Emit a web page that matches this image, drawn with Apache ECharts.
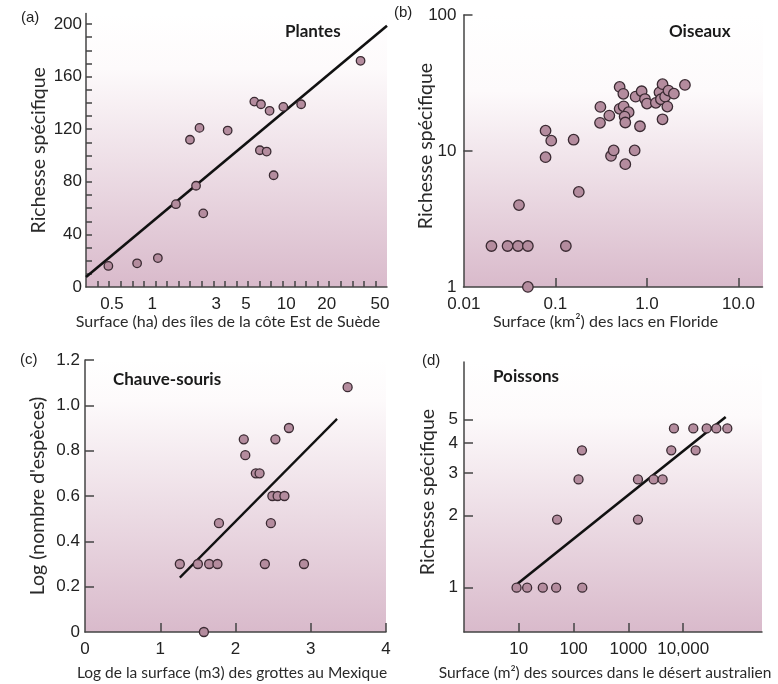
<!DOCTYPE html>
<html><head><meta charset="utf-8">
<script src="https://cdn.jsdelivr.net/npm/echarts@6/dist/echarts.min.js"></script>
<style>
html,body{margin:0;padding:0;background:#fff}
#wrap{position:relative;width:778px;height:684px}
#bgs{position:absolute;left:0;top:0;width:778px;height:684px;z-index:0}
#bgs div{position:absolute}
#c{position:absolute;left:0;top:0;width:778px;height:684px;z-index:1}
</style>
</head><body><div id="wrap"><div id="bgs"></div><div id="c"></div></div>
<script>
// ---------- DATA ----------
// (a) Plantes
const plantesSurface = [0.47, 0.77, 1.10, 1.50, 1.91, 2.12, 2.25, 2.40, 3.65, 5.77, 6.47, 6.35, 7.13, 7.50, 8.04, 9.50, 12.9, 35.8];
const plantesRichesse = [16, 18, 22, 63, 112, 77, 121, 56, 119, 141, 139, 104, 103, 134, 85, 137, 139, 172];
const plantesFitX = [0.32, 56.4];
const plantesFitY = [7.6, 198.7];
const plantesXTicks = [0.5, 1, 3, 5, 10, 20, 50];
const plantesYTicks = [0, 40, 80, 120, 160, 200];
const plantesYMinor = [10, 20, 30, 40, 50, 60, 70, 80, 90, 100, 110, 120, 130, 140, 150, 160, 170, 180, 190, 200];

// (b) Oiseaux
const oiseauxSurface = [0.020, 0.030, 0.039, 0.050, 0.040, 0.050, 0.130, 0.078, 0.090, 0.078, 0.158, 0.180, 0.310, 0.307, 0.388, 0.405, 0.433, 0.503, 0.552, 0.503, 0.556, 0.631, 0.570, 0.580, 0.580, 0.734, 0.752, 0.839, 0.875, 0.951, 1.00, 1.25, 1.37, 1.42, 1.48, 1.48, 1.58, 1.67, 1.72, 1.97, 2.60];
const oiseauxRichesse = [2, 2, 2, 2, 4, 1, 2, 14.1, 11.9, 9.0, 12.1, 5, 21.1, 16.1, 18.2, 9.2, 10.1, 29.6, 26.3, 20.4, 21.3, 19.3, 17.9, 16.2, 8, 10.1, 25.1, 15.2, 27.5, 24.1, 22.3, 22.6, 27.0, 24.0, 31.0, 17.1, 25.1, 21.2, 27.8, 26.4, 30.6];
const oiseauxXTicks = [0.01, 0.1, 1, 10];
const oiseauxXLabels = ['0.01', '0.1', '1.0', '10.0'];
const oiseauxYTicks = [1, 10, 100];

// (c) Chauve-souris
const chauveSurface = [1.26, 1.50, 1.65, 1.76, 1.78, 1.58, 2.11, 2.13, 2.27, 2.32, 2.39, 2.47, 2.49, 2.56, 2.65, 2.53, 2.71, 2.91, 3.49];
const chauveEspeces = [0.30, 0.30, 0.30, 0.30, 0.48, 0.0, 0.85, 0.78, 0.70, 0.70, 0.30, 0.48, 0.60, 0.60, 0.60, 0.85, 0.90, 0.30, 1.08];
const chauveFitX = [1.26, 3.35];
const chauveFitY = [0.24, 0.94];
const chauveXTicks = [0, 1, 2, 3, 4];
const chauveYTicks = [0, 0.2, 0.4, 0.6, 0.8, 1.0, 1.2];

// (d) Poissons
const poissonsSurface = [9.1, 14.2, 27.4, 48, 144, 50, 123, 142, 1494, 1494, 2884, 4210, 6057, 6776, 15280, 16850, 26800, 40200, 63800];
const poissonsRichesse = [1, 1, 1, 1, 1, 1.92, 2.82, 3.73, 1.92, 2.82, 2.82, 2.82, 3.73, 4.6, 4.6, 3.73, 4.6, 4.6, 4.6];
const poissonsFitX = [9.6, 59600];
const poissonsFitY = [1.04, 5.13];
const poissonsXTicks = [10, 100, 1000, 10000, 100000];
const poissonsXLabels = ['10', '100', '1000', '10,000', '100,000'];
const poissonsYTicks = [1, 2, 3, 4, 5];

// ---------- STYLE ----------
const AX = '#444444';
const LBL = {fontFamily: 'Liberation Sans', fontSize: 17, color: '#222'};
const XNAME = {fontFamily: 'Lato', fontSize: 16, color: '#2a2a2a'};
const YNAME = {fontFamily: 'Lato', fontSize: 19.5, color: '#2a2a2a'};
const PT = {color: '#b48c9e', borderColor: '#3a2a32', borderWidth: 1.3, opacity: 1};
const zip = (a, b) => a.map((v, i) => [v, b[i]]);
const near = (v, t) => Math.abs(Math.log10(v) - Math.log10(t)) < 1e-6;
const EXT = {
  a: {x: [0.32, 56.4], y: [0, 208]},
  b: {x: [0.0099, 18.3], y: [0.999, 100]},
  c: {x: [0, 4], y: [0, 1.2]},
  d: {x: [1, 274000], y: [0.654, 8.69]}
};
// evenly spaced decorative ticks along the log x axis of panel (a) (style only)
const aTickCount = 26;
const aDecoTicks = [];
for (let k = 1; k <= aTickCount; k++) {
  aDecoTicks.push(Math.pow(10, Math.log10(EXT.a.x[0]) + k * Math.log10(EXT.a.x[1] / EXT.a.x[0]) / aTickCount));
}
function tick(len, vals) {
  return {show: true, inside: true, length: len, customValues: vals, lineStyle: {color: AX, width: 1.5}};
}
function axBase(o) {
  return Object.assign({
    z: 10,
    axisLine: {show: true, lineStyle: {color: AX, width: 1.5}},
    splitLine: {show: false},
    nameMoveOverlap: false
  }, o);
}
const grids = [
  {left: 86, top: 13.5, width: 301, height: 273.5, ws: 20},
  {left: 463.5, top: 15, width: 299, height: 272, ws: 28},
  {left: 85, top: 360, width: 301, height: 272, ws: 15},
  {left: 464, top: 362, width: 298, height: 270, ws: 20}
];
// panel backgrounds (plain CSS, behind the transparent chart canvas)
const bgs = document.getElementById('bgs');
grids.forEach(g => {
  const d = document.createElement('div');
  d.style.left = g.left + 'px'; d.style.top = g.top + 'px';
  d.style.width = g.width + 'px'; d.style.height = g.height + 'px';
  d.style.background = 'linear-gradient(to bottom, #ffffff 0%, #fdfafb ' + g.ws + '%, #d9bacb 100%)';
  bgs.appendChild(d);
});

const option = {
  animation: false,
  backgroundColor: 'transparent',
  grid: grids.map(g => ({left: g.left, top: g.top, width: g.width, height: g.height, show: false,
    containLabel: false, outerBoundsMode: 'none'})),
  title: [
    {text: 'Plantes', left: 285, top: 23},
    {text: 'Oiseaux', left: 669, top: 23},
    {text: 'Chauve-souris', left: 113, top: 371},
    {text: 'Poissons', left: 493, top: 368},
  ].map(t => Object.assign(t, {padding: 0, textStyle: {fontFamily: 'Lato', fontWeight: 'bold', fontSize: 17, color: '#1a1a1a'}}))
  .concat([
    {text: '(a)', left: 21, top: 10},
    {text: '(b)', left: 394, top: 5},
    {text: '(c)', left: 20, top: 352},
    {text: '(d)', left: 422, top: 353},
  ].map(t => Object.assign(t, {padding: 0, textStyle: {fontFamily: 'Liberation Sans', fontWeight: 'normal', fontSize: 15, color: '#222'}}))),
  xAxis: [
    axBase({gridIndex: 0, type: 'log', min: EXT.a.x[0], max: EXT.a.x[1],
      axisTick: tick(6, aDecoTicks),
      axisLabel: Object.assign({customValues: plantesXTicks, margin: 9, formatter: v => String(v)}, LBL),
      name: 'Surface (ha) des îles de la côte Est de Suède', nameLocation: 'middle', nameGap: 27,
      nameTextStyle: Object.assign({padding: [0, 17, 0, 0]}, XNAME)}),
    axBase({gridIndex: 1, type: 'log', min: EXT.b.x[0], max: EXT.b.x[1],
      axisTick: tick(9, [0.1, 1, 10]),
      axisLabel: Object.assign({customValues: oiseauxXTicks, margin: 9,
        formatter: v => { const i = oiseauxXTicks.findIndex(t => near(v, t)); return i >= 0 ? oiseauxXLabels[i] : ''; }}, LBL),
      name: 'Surface (km²) des lacs en Floride', nameLocation: 'middle', nameGap: 27,
      nameTextStyle: Object.assign({padding: [0, 15, 0, 0]}, XNAME)}),
    axBase({gridIndex: 2, type: 'value', min: EXT.c.x[0], max: EXT.c.x[1],
      axisTick: tick(9, [1, 2, 3, 4]),
      axisLabel: Object.assign({customValues: chauveXTicks, margin: 9, formatter: v => String(v)}, LBL),
      name: 'Log de la surface (m3) des grottes au Mexique', nameLocation: 'middle', nameGap: 33,
      nameTextStyle: Object.assign({padding: [0, 7, 0, 0]}, XNAME, {fontSize: 15.5})}),
    axBase({gridIndex: 3, type: 'log', min: EXT.d.x[0], max: EXT.d.x[1],
      axisTick: tick(9, poissonsXTicks),
      axisLabel: Object.assign({customValues: poissonsXTicks, margin: 9,
        formatter: v => { const i = poissonsXTicks.findIndex(t => near(v, t)); return i >= 0 ? poissonsXLabels[i] : ''; }}, LBL),
      name: 'Surface (m²) des sources dans le désert australien', nameLocation: 'middle', nameGap: 33,
      nameTextStyle: Object.assign({padding: [0, 16, 0, 0]}, XNAME, {fontSize: 15.5})})
  ],
  yAxis: [
    axBase({gridIndex: 0, type: 'value', min: EXT.a.y[0], max: EXT.a.y[1],
      axisTick: tick(6, plantesYMinor),
      axisLabel: Object.assign({customValues: plantesYTicks, margin: 4, formatter: v => String(v)}, LBL),
      name: 'Richesse spécifique', nameLocation: 'middle', nameGap: 37, nameRotate: 90,
      nameTextStyle: YNAME}),
    axBase({gridIndex: 1, type: 'log', min: EXT.b.y[0], max: EXT.b.y[1],
      axisTick: tick(9, [10, 100]),
      axisLabel: Object.assign({customValues: oiseauxYTicks, margin: 7, formatter: v => String(Math.round(v))}, LBL),
      name: 'Richesse spécifique', nameLocation: 'middle', nameGap: 28, nameRotate: 90,
      nameTextStyle: Object.assign({padding: [0, 0, 0, 10]}, YNAME)}),
    axBase({gridIndex: 2, type: 'value', min: EXT.c.y[0], max: EXT.c.y[1],
      axisTick: tick(9, [0.2, 0.4, 0.6, 0.8, 1.0, 1.2]),
      axisLabel: Object.assign({customValues: chauveYTicks, margin: 5, formatter: v => v === 0 ? '0' : v.toFixed(1)}, LBL),
      name: "Log (nombre d'espèces)", nameLocation: 'middle', nameGap: 37, nameRotate: 90,
      nameTextStyle: YNAME}),
    axBase({gridIndex: 3, type: 'log', min: EXT.d.y[0], max: EXT.d.y[1],
      axisTick: tick(9, poissonsYTicks),
      axisLabel: Object.assign({customValues: poissonsYTicks, margin: 6, formatter: v => String(Math.round(v))}, LBL),
      name: 'Richesse spécifique', nameLocation: 'middle', nameGap: 26, nameRotate: 90,
      nameTextStyle: Object.assign({padding: [0, 0, 0, 10]}, YNAME)})
  ],
  series: [
    {type: 'line', xAxisIndex: 0, yAxisIndex: 0, data: zip(plantesFitX, plantesFitY), symbol: 'none',
      lineStyle: {color: '#111', width: 2.6}, silent: true, z: 12},
    {type: 'scatter', xAxisIndex: 0, yAxisIndex: 0, data: zip(plantesSurface, plantesRichesse), symbolSize: 8.5,
      itemStyle: PT, clip: false, z: 13},
    {type: 'scatter', xAxisIndex: 1, yAxisIndex: 1, data: zip(oiseauxSurface, oiseauxRichesse), symbolSize: 10.5,
      itemStyle: PT, clip: false, z: 13},
    {type: 'line', xAxisIndex: 2, yAxisIndex: 2, data: zip(chauveFitX, chauveFitY), symbol: 'none',
      lineStyle: {color: '#111', width: 2.3}, silent: true, z: 12},
    {type: 'scatter', xAxisIndex: 2, yAxisIndex: 2, data: zip(chauveSurface, chauveEspeces), symbolSize: 9,
      itemStyle: PT, clip: false, z: 13},
    {type: 'line', xAxisIndex: 3, yAxisIndex: 3, data: zip(poissonsFitX, poissonsFitY), symbol: 'none',
      lineStyle: {color: '#111', width: 2.6}, silent: true, z: 12},
    {type: 'scatter', xAxisIndex: 3, yAxisIndex: 3, data: zip(poissonsSurface, poissonsRichesse), symbolSize: 9,
      itemStyle: PT, clip: false, z: 13}
  ]
};
const chart = echarts.init(document.getElementById('c'));
chart.setOption(option);
</script></body></html>
